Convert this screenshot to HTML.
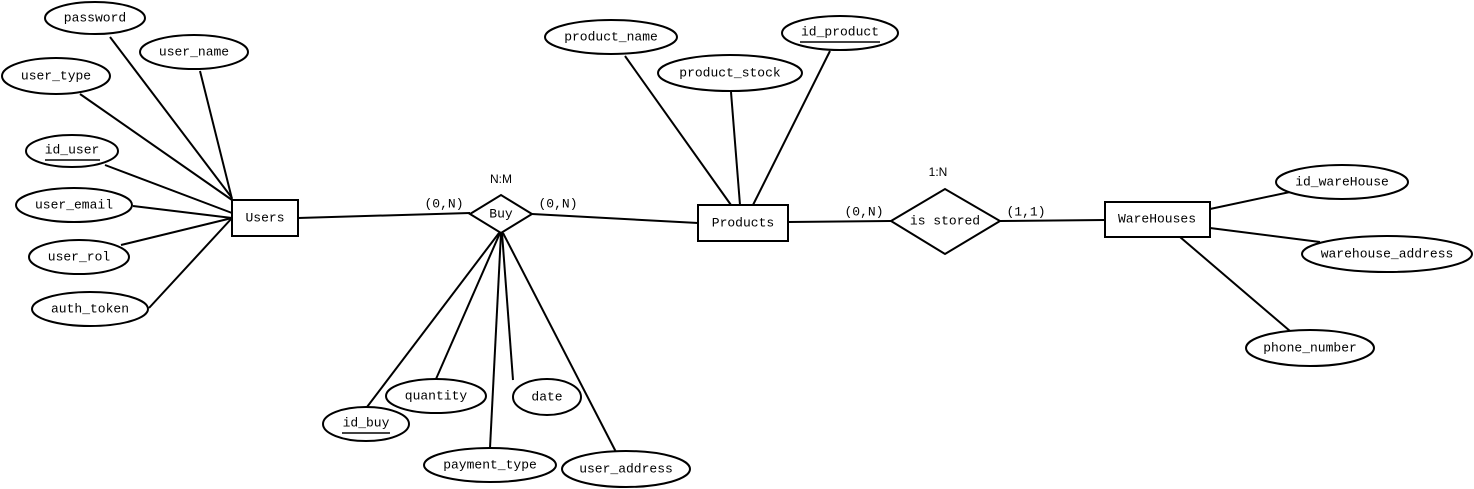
<!DOCTYPE html>
<html><head><meta charset="utf-8"><style>
html,body{margin:0;padding:0;background:#fff;}
svg{display:block;}
text{font-family:"Liberation Mono",monospace;font-size:13px;fill:#000;text-anchor:middle;dominant-baseline:central;}
.s{font-family:"Liberation Sans",sans-serif;font-size:12px;}
ellipse,rect,polygon{fill:#fff;stroke:#000;stroke-width:2;}
line{stroke:#000;stroke-width:2;}
</style></head><body>
<svg width="1474" height="489" viewBox="0 0 1474 489">
<line x1="110" y1="37" x2="232" y2="198"/>
<line x1="200" y1="71" x2="232" y2="199"/>
<line x1="80" y1="94" x2="232" y2="200"/>
<line x1="105" y1="165" x2="232" y2="213"/>
<line x1="133" y1="206" x2="232" y2="218"/>
<line x1="121" y1="245" x2="232" y2="218"/>
<line x1="149" y1="308" x2="232" y2="218"/>
<line x1="298" y1="218" x2="470" y2="213"/>
<line x1="532" y1="214" x2="698" y2="223"/>
<line x1="788" y1="222" x2="891" y2="221"/>
<line x1="1000" y1="221" x2="1105" y2="220"/>
<line x1="625" y1="56" x2="731" y2="205"/>
<line x1="731" y1="92" x2="740" y2="205"/>
<line x1="830" y1="51" x2="753" y2="205"/>
<line x1="1210" y1="209" x2="1290" y2="192"/>
<line x1="1210" y1="228" x2="1320" y2="242"/>
<line x1="1180" y1="237" x2="1290" y2="331"/>
<line x1="499" y1="233" x2="367" y2="407"/>
<line x1="500" y1="233" x2="436" y2="379"/>
<line x1="501" y1="233" x2="490" y2="448"/>
<line x1="502" y1="233" x2="513" y2="380"/>
<line x1="503" y1="233" x2="616" y2="452"/>

<ellipse cx="95" cy="18" rx="50" ry="16"/><text x="95" y="18">password</text>
<ellipse cx="194" cy="52" rx="54" ry="17"/><text x="194" y="52">user_name</text>
<ellipse cx="56" cy="76" rx="54" ry="18"/><text x="56" y="76">user_type</text>
<ellipse cx="72" cy="151" rx="46" ry="16"/><text x="72" y="150">id_user</text><line x1="45" y1="160" x2="100" y2="160" style="stroke-width:1.5"/>
<ellipse cx="74" cy="205" rx="58" ry="17"/><text x="74" y="205">user_email</text>
<ellipse cx="79" cy="257" rx="50" ry="17"/><text x="79" y="257">user_rol</text>
<ellipse cx="90" cy="309" rx="58" ry="17"/><text x="90" y="309">auth_token</text>
<rect x="232" y="200" width="66" height="36"/><text x="265" y="218">Users</text>

<polygon points="470,214 501,195 532,214 501,233"/><text x="501" y="214">Buy</text>
<text class="s" x="501" y="179">N:M</text>
<text x="444" y="204">(0,N)</text>
<text x="558" y="204">(0,N)</text>

<ellipse cx="611" cy="37" rx="66" ry="17"/><text x="611" y="37">product_name</text>
<ellipse cx="730" cy="73" rx="72" ry="18"/><text x="730" y="73">product_stock</text>
<ellipse cx="840" cy="33" rx="58" ry="17"/><text x="840" y="32">id_product</text><line x1="800" y1="42" x2="880" y2="42" style="stroke-width:1.5"/>
<rect x="698" y="205" width="90" height="36"/><text x="743" y="223">Products</text>
<text x="864" y="212">(0,N)</text>

<polygon points="891,221 945,189 1000,221 945,254"/><text x="945" y="221">is stored</text>
<text class="s" x="938" y="172">1:N</text>
<text x="1026" y="212">(1,1)</text>

<rect x="1105" y="202" width="105" height="35"/><text x="1157" y="219">WareHouses</text>
<ellipse cx="1342" cy="182" rx="66" ry="17"/><text x="1342" y="182">id_wareHouse</text>
<ellipse cx="1387" cy="254" rx="85" ry="18"/><text x="1387" y="254">warehouse_address</text>
<ellipse cx="1310" cy="348" rx="64" ry="18"/><text x="1310" y="348">phone_number</text>

<ellipse cx="366" cy="424" rx="43" ry="17"/><text x="366" y="423">id_buy</text><line x1="342" y1="433" x2="390" y2="433" style="stroke-width:1.5"/>
<ellipse cx="436" cy="396" rx="50" ry="17"/><text x="436" y="396">quantity</text>
<ellipse cx="547" cy="397" rx="34" ry="18"/><text x="547" y="397">date</text>
<ellipse cx="490" cy="465" rx="66" ry="17"/><text x="490" y="465">payment_type</text>
<ellipse cx="626" cy="469" rx="64" ry="18"/><text x="626" y="469">user_address</text>
</svg>
</body></html>
